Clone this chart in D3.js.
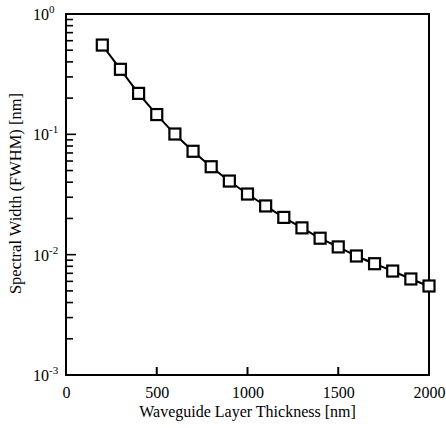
<!DOCTYPE html>
<html>
<head>
<meta charset="utf-8">
<script src="https://cdn.jsdelivr.net/npm/d3@7"></script>
<style>
  body { margin: 0; background: #fff; }
</style>
</head>
<body>
<script>
// data
var thickness = [200, 300, 400, 500, 600, 700, 800, 900, 1000, 1100, 1200, 1300, 1400, 1500, 1600, 1700, 1800, 1900, 2000];
var fwhm = [0.552, 0.347, 0.219, 0.146, 0.1006, 0.0723, 0.0538, 0.0409, 0.0319, 0.0254, 0.0204, 0.0167, 0.0137, 0.0116, 0.00975, 0.00841, 0.00731, 0.00628, 0.00549];
var xTicks = [0, 500, 1000, 1500, 2000];
var yDecades = [-3, -2, -1, 0];

var serif = "Liberation Serif";
var svgWidth = 446;
var svgHeight = 428;
var margin = { top: 14, right: 17, bottom: 53, left: 66 };
var width = svgWidth - margin.left - margin.right;
var height = svgHeight - margin.top - margin.bottom;

var svg = d3.select("body")
    .append("svg")
    .attr("width", svgWidth)
    .attr("height", svgHeight);

var chartGroup = svg.append("g")
    .attr("transform", `translate(${margin.left}, ${margin.top})`);

var xScale = d3.scaleLinear()
    .domain([0, 2000])
    .range([0, width]);

var yScale = d3.scaleLog()
    .domain([1e-3, 1])
    .range([height, 0]);

// x ticks, inward
var bottomAxis = d3.axisBottom(xScale)
    .tickValues(xTicks)
    .tickSize(0)
    .tickPadding(12)
    .tickFormat(d3.format("d"));

var xAxisG = chartGroup.append("g")
    .attr("transform", `translate(0, ${height})`)
    .call(bottomAxis)
    .attr("font-family", serif)
    .attr("font-size", 16);
xAxisG.select(".domain").remove();
xAxisG.selectAll("text")
    .style("font-size", "16px")
    .style("font-family", serif)
    .attr("fill", "#000");

chartGroup.selectAll(".xtick")
    .data(xTicks.filter(d => d > 0 && d < 2000))
    .enter()
    .append("line")
    .attr("x1", d => xScale(d))
    .attr("x2", d => xScale(d))
    .attr("y1", height)
    .attr("y2", height - 8)
    .attr("stroke", "#000")
    .attr("stroke-width", 2);

// y ticks: majors at decades, minors 2..9
var minor = [];
yDecades.slice(0, -1).forEach(function (e) {
    for (var k = 2; k <= 9; k++) minor.push(k * Math.pow(10, e));
});

chartGroup.selectAll(".yminor")
    .data(minor)
    .enter()
    .append("line")
    .attr("x1", 0)
    .attr("x2", 7)
    .attr("y1", d => yScale(d))
    .attr("y2", d => yScale(d))
    .attr("stroke", "#000")
    .attr("stroke-width", 1.6);

chartGroup.selectAll(".ymajor")
    .data(yDecades.filter(e => e > -3 && e < 0))
    .enter()
    .append("line")
    .attr("x1", 0)
    .attr("x2", 10)
    .attr("y1", d => yScale(Math.pow(10, d)))
    .attr("y2", d => yScale(Math.pow(10, d)))
    .attr("stroke", "#000")
    .attr("stroke-width", 1.6);

var yLabels = chartGroup.selectAll(".ylabel")
    .data(yDecades)
    .enter()
    .append("text")
    .attr("x", -33)
    .attr("y", d => yScale(Math.pow(10, d)) + 6)
    .attr("text-anchor", "start")
    .style("font-family", serif)
    .style("font-size", "16px");
yLabels.append("tspan").text("10");
yLabels.append("tspan")
    .attr("dy", -7)
    .style("font-size", "11px")
    .text(d => d === 0 ? "0" : "-" + Math.abs(d));

// frame
chartGroup.append("rect")
    .attr("x", 0)
    .attr("y", 0)
    .attr("width", width)
    .attr("height", height)
    .attr("fill", "none")
    .attr("stroke", "#000")
    .attr("stroke-width", 2);

// curve
var line = d3.line()
    .x((d, i) => xScale(thickness[i]))
    .y(d => yScale(d))
    .curve(d3.curveMonotoneX);

chartGroup.append("path")
    .datum(fwhm)
    .attr("d", line)
    .attr("fill", "none")
    .attr("stroke", "#000")
    .attr("stroke-width", 2);

// square markers
var s = 11;
chartGroup.selectAll(".marker")
    .data(fwhm)
    .enter()
    .append("rect")
    .attr("x", (d, i) => xScale(thickness[i]) - s / 2)
    .attr("y", d => yScale(d) - s / 2)
    .attr("width", s)
    .attr("height", s)
    .attr("fill", "#fff")
    .attr("stroke", "#000")
    .attr("stroke-width", 2.2);

// axis titles
chartGroup.append("text")
    .attr("x", width / 2)
    .attr("y", height + 42)
    .attr("text-anchor", "middle")
    .style("font-family", serif)
    .style("font-size", "16px")
    .text("Waveguide Layer Thickness [nm]");

svg.append("text")
    .attr("transform", `translate(21, ${margin.top + height / 2 - 1}) rotate(-90)`)
    .attr("text-anchor", "middle")
    .style("font-family", serif)
    .style("font-size", "16.5px")
    .text("Spectral Width (FWHM) [nm]");
</script>
</body>
</html>
